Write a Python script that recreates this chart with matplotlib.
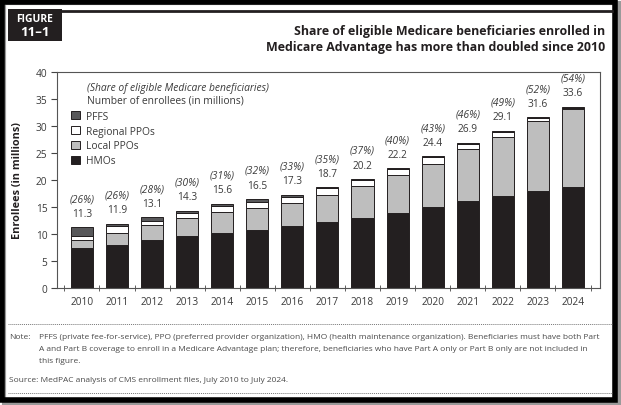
import matplotlib as mpl
import matplotlib.pyplot as plt
from matplotlib.patches import Rectangle
from matplotlib.lines import Line2D

mpl.rc('font', family=['Open Sans', 'DejaVu Sans'])

years = ['2010', '2011', '2012', '2013', '2014', '2015', '2016', '2017',
         '2018', '2019', '2020', '2021', '2022', '2023', '2024']
hmo = [7.5, 8.0, 8.8, 9.7, 10.2, 10.8, 11.5, 12.2, 13.0, 13.8, 15.0, 16.1, 17.0, 18.0, 18.7]
local_ppo = [1.3, 2.2, 2.9, 3.2, 3.8, 4.1, 4.2, 5.0, 5.8, 7.1, 7.9, 9.6, 10.9, 12.9, 14.4]
regional_ppo = [0.9, 1.2, 0.8, 1.0, 1.1, 1.1, 1.2, 1.3, 1.2, 1.2, 1.3, 1.0, 1.0, 0.5, 0.3]
pffs = [1.6, 0.5, 0.6, 0.4, 0.5, 0.5, 0.4, 0.2, 0.2, 0.1, 0.2, 0.2, 0.2, 0.2, 0.2]
totals = ['11.3', '11.9', '13.1', '14.3', '15.6', '16.5', '17.3', '18.7',
          '20.2', '22.2', '24.4', '26.9', '29.1', '31.6', '33.6']
shares = ['26%', '26%', '28%', '30%', '31%', '32%', '33%', '35%',
          '37%', '40%', '43%', '46%', '49%', '52%', '54%']

W, H = 621, 406
fig = plt.figure(figsize=(W / 100, H / 100), dpi=100)

def fx(px):
    return px / W

def fy(py):
    return 1 - py / H

# outer frame with a bit of shadow
fig.patches.append(Rectangle((fx(4), fy(404)), fx(615), 400 / H, transform=fig.transFigure,
                             fill=False, lw=3, edgecolor='#9a9a9a', zorder=0))
fig.patches.append(Rectangle((fx(2), fy(401)), fx(613), 398 / H, transform=fig.transFigure,
                             fill=False, lw=4, edgecolor='black', zorder=1))

# figure tag + rule
fig.patches.append(Rectangle((fx(8), fy(42)), fx(54), 32 / H, transform=fig.transFigure,
                             facecolor='#231f20', edgecolor='none'))
fig.text(fx(35), fy(19), 'FIGURE', color='white', fontsize=7.5, fontweight='bold',
         ha='center', va='center')
fig.text(fx(35), fy(33), '11–1', color='white', fontsize=9.5, fontweight='bold',
         ha='center', va='center')
fig.lines.append(Line2D([fx(62), fx(612)], [fy(11.5), fy(11.5)], transform=fig.transFigure,
                        color='#231f20', lw=2))

fig.text(fx(605), fy(31), 'Share of eligible Medicare beneficiaries enrolled in',
         fontsize=8.9, fontweight='bold', ha='right', va='center', color='#231f20')
fig.text(fx(605), fy(47), 'Medicare Advantage has more than doubled since 2010',
         fontsize=8.9, fontweight='bold', ha='right', va='center', color='#231f20')

ax = fig.add_axes([fx(57), fy(289), fx(600 - 57), (289 - 73) / H])

x = list(range(len(years)))
ec = '#231f20'
bw = 0.63
ax.bar(x, hmo, bw, color='#231f20', edgecolor=ec, lw=0.7, label='HMOs')
b1 = [h for h in hmo]
ax.bar(x, local_ppo, bw, bottom=b1, color='#bebebe', edgecolor=ec, lw=0.7, label='Local PPOs')
b2 = [a + b for a, b in zip(b1, local_ppo)]
ax.bar(x, regional_ppo, bw, bottom=b2, color='white', edgecolor=ec, lw=0.7, label='Regional PPOs')
b3 = [a + b for a, b in zip(b2, regional_ppo)]
ax.bar(x, pffs, bw, bottom=b3, color='#58585a', edgecolor=ec, lw=0.7, label='PFFS')
tops = [a + b for a, b in zip(b3, pffs)]

for i, t in enumerate(tops):
    ax.annotate(totals[i], (i, t), xytext=(0, 10), textcoords='offset points',
                ha='center', va='center', fontsize=7.3, color='#3a3a3a')
    ax.annotate('(' + shares[i] + ')', (i, t), xytext=(0, 20.5), textcoords='offset points',
                ha='center', va='center', fontsize=7.3, color='#3a3a3a', style='italic')

ax.set_ylim(0, 40)
ax.set_xlim(-0.71, 14.77)
ax.set_yticks(range(0, 41, 5))
ax.set_xticks(x)
ax.set_xticklabels(years)
ax.set_xticks([i + 0.5 for i in range(-1, 15)], minor=True)
ax.tick_params(axis='x', which='major', length=0, pad=6, labelsize=7.3, labelcolor='#3a3a3a')
ax.tick_params(axis='x', which='minor', length=4, direction='inout', color='#444444')
ax.tick_params(axis='y', length=4, labelsize=7.3, labelcolor='#3a3a3a', color='#444444', pad=3)
for s in ax.spines.values():
    s.set_color('#555555')
    s.set_linewidth(0.8)
ax.set_ylabel('Enrollees (in millions)', fontsize=7.8, fontweight='bold', color='#231f20',
              labelpad=9)

# legend block written by hand like the source
ax.text(0.056, 0.93, '(Share of eligible Medicare beneficiaries)', transform=ax.transAxes,
        fontsize=7.4, style='italic', color='#3a3a3a', va='center')
ax.text(0.056, 0.87, 'Number of enrollees (in millions)', transform=ax.transAxes,
        fontsize=7.4, color='#3a3a3a', va='center')
handles, labels = ax.get_legend_handles_labels()
ax.legend(handles[::-1], labels[::-1], loc='upper left', bbox_to_anchor=(0.018, 0.84),
          frameon=False, fontsize=7.4, handlelength=0.9, handleheight=0.9,
          handletextpad=0.6, labelspacing=0.38, borderaxespad=0, labelcolor='#3a3a3a')

# notes
dot = dict(transform=fig.transFigure, color='#777777', lw=0.7, ls=(0, (1, 1)))
fig.lines.append(Line2D([fx(8), fx(612)], [fy(325), fy(325)], **dot))
fig.lines.append(Line2D([fx(8), fx(612)], [fy(394), fy(394)], **dot))
nc = '#4a4a4a'
fs = 6.0
fig.text(fx(9), fy(338), 'Note:', fontsize=fs, color=nc, va='center')
fig.text(fx(39), fy(338), 'PFFS (private fee-for-service), PPO (preferred provider organization), '
         'HMO (health maintenance organization). Beneficiaries must have both Part',
         fontsize=fs, color=nc, va='center')
fig.text(fx(39), fy(350), 'A and Part B coverage to enroll in a Medicare Advantage plan; therefore, '
         'beneficiaries who have Part A only or Part B only are not included in',
         fontsize=fs, color=nc, va='center')
fig.text(fx(39), fy(362), 'this figure.', fontsize=fs, color=nc, va='center')
fig.text(fx(9), fy(381), 'Source: MedPAC analysis of CMS enrollment files, July 2010 to July 2024.',
         fontsize=fs, color=nc, va='center')

fig.savefig('out.png', dpi=100)
